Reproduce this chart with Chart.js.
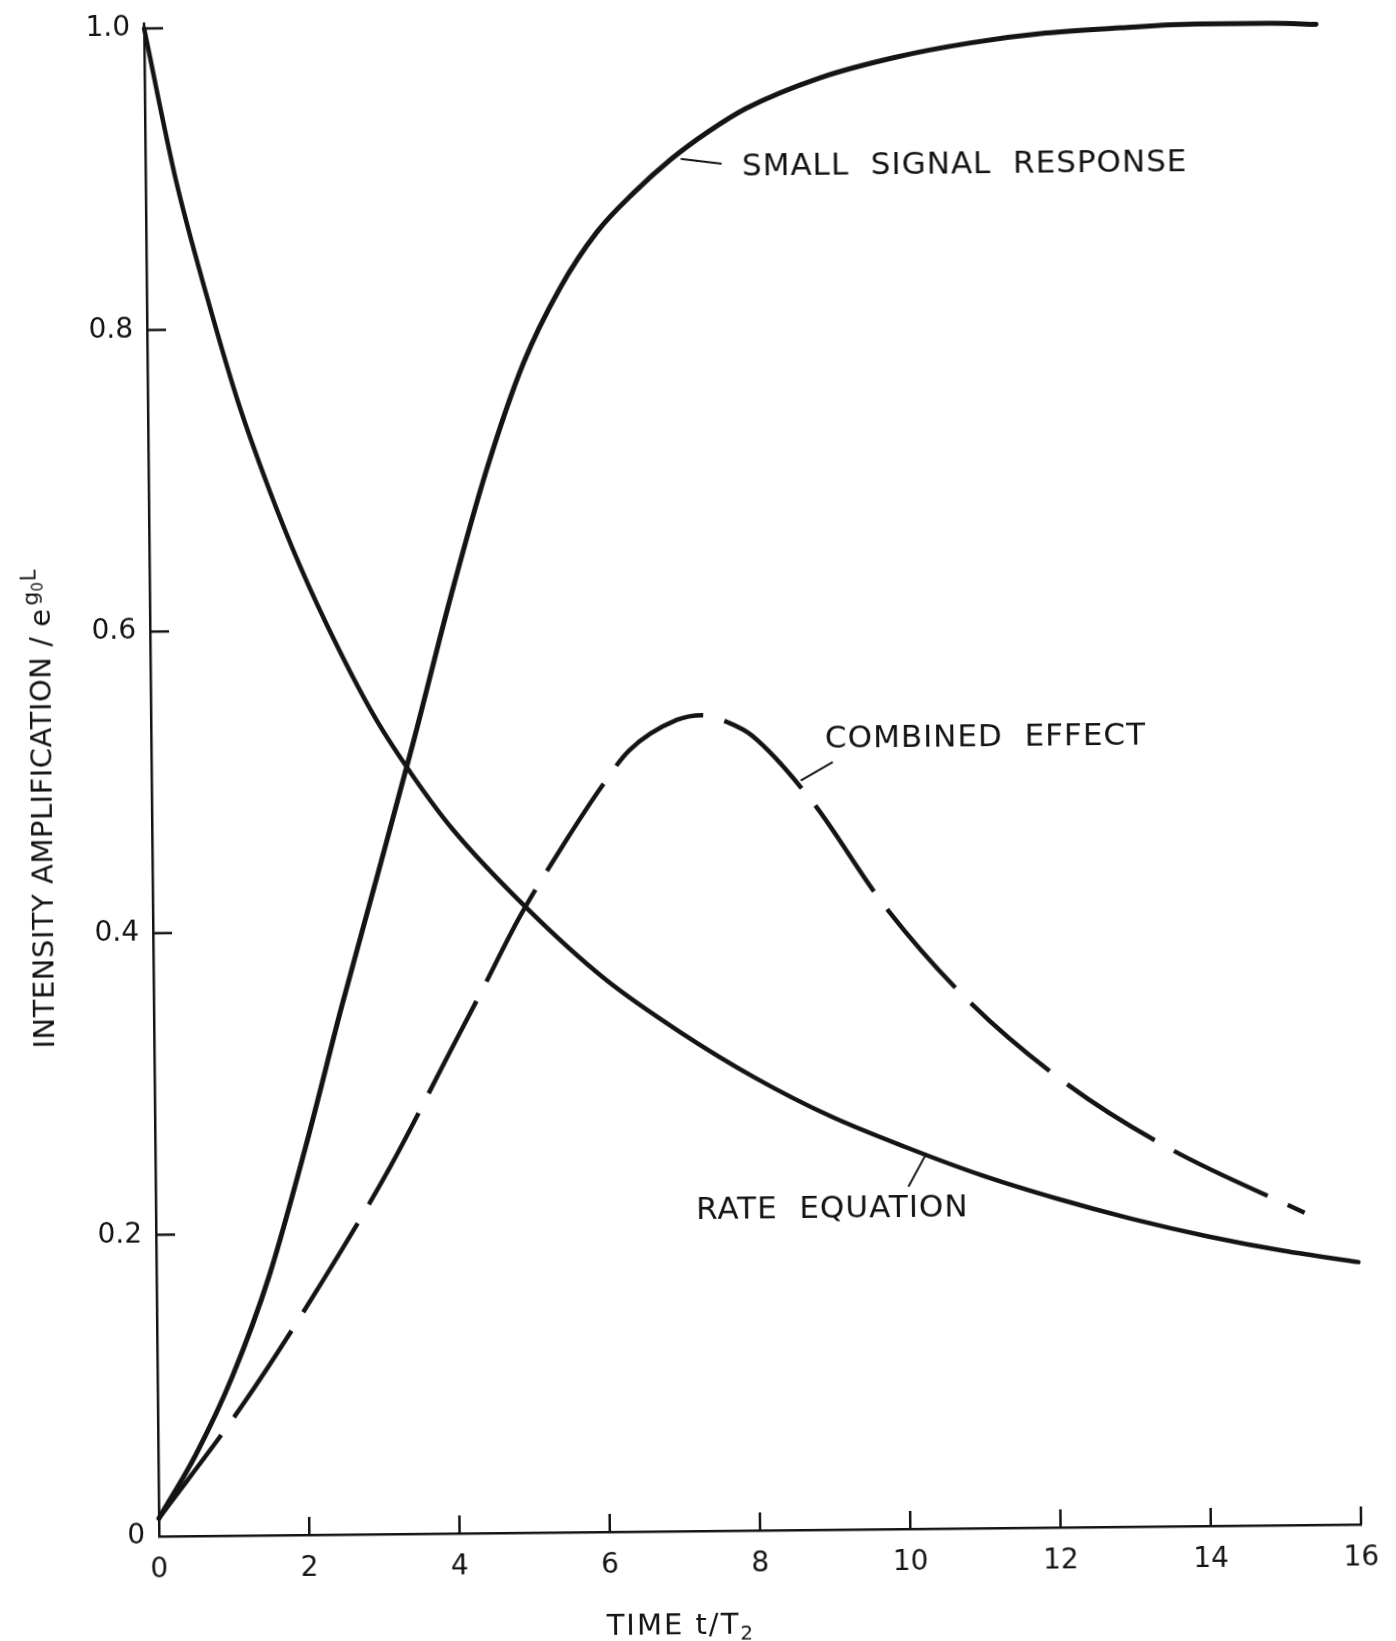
<!DOCTYPE html>
<html lang="en">
<head>
<meta charset="UTF-8">
<title>Intensity amplification vs time</title>
<script src="https://cdn.jsdelivr.net/npm/chart.js"></script>
<style>
  html, body { margin: 0; padding: 0; background: #fff; overflow: hidden; }
  /* the printed figure sits slightly skewed on the page */
  #chart { display: block; transform: rotate(-0.57deg); transform-origin: 50% 50%; }
</style>
</head>
<body>
<canvas id="chart" width="1396" height="1641"></canvas>
<script>
// values, time in units of T2
const smallSignalTime = [0, 0.5, 1.0, 1.5, 2.0, 2.5, 3.0, 3.5, 4.0, 4.5, 5.0, 5.5, 6.0, 6.5, 7.0, 7.5, 8.0, 9.0, 10, 11, 12, 13, 14, 15, 15.6];
const smallSignalAmp  = [0.012, 0.054, 0.106, 0.172, 0.257, 0.35, 0.438, 0.527, 0.62, 0.705, 0.775, 0.825, 0.862, 0.888, 0.91, 0.928, 0.943, 0.963, 0.976, 0.985, 0.991, 0.994, 0.996, 0.996, 0.995];

const rateEqTime = [0, 0.4, 0.8, 1.2, 1.6, 2.0, 2.5, 3.0, 3.5, 4.0, 5.0, 6.0, 7.0, 8.0, 9.0, 10, 11, 12, 13, 14, 15, 16];
const rateEqAmp  = [1.0, 0.9, 0.822, 0.752, 0.694, 0.643, 0.588, 0.54, 0.501, 0.467, 0.413, 0.367, 0.331, 0.3, 0.274, 0.253, 0.234, 0.218, 0.204, 0.192, 0.182, 0.174];

const combinedTime = [0, 1.12, 2.22, 3.13, 3.9, 4.35, 4.9, 5.5, 6.0, 6.36, 7.0, 7.34, 7.68, 8.0, 8.79, 9.73, 10.84, 12.17, 13.52, 15.29];
const combinedAmp  = [0.012, 0.086, 0.169, 0.244, 0.316, 0.358, 0.41, 0.458, 0.495, 0.518, 0.538, 0.541, 0.536, 0.527, 0.483, 0.414, 0.35, 0.293, 0.25, 0.207];

const timeTicks = [2, 4, 6, 8, 10, 12, 14, 16];
const ampTicks = [0.2, 0.4, 0.6, 0.8, 1.0];

const ink = '#141414';
const face = '"DejaVu Sans", "Liberation Sans", sans-serif';

function pts(xs, ys) {
    return xs.map((x, i) => ({ x: x, y: ys[i] }));
}

// curve labels with their leader lines, in data units
const notes = [
    { text: 'SMALL  SIGNAL  RESPONSE', at: [7.94, 0.904], from: [7.125, 0.91], to: [7.67, 0.9065] },
    { text: 'COMBINED  EFFECT', at: [8.97, 0.5236], from: [8.64, 0.497], to: [9.07, 0.509] },
    { text: 'RATE  EQUATION', at: [7.19, 0.212], from: [10.25, 0.2476], to: [10.02, 0.227] }
];

const figureBits = {
    id: 'figureBits',
    afterDraw(chart) {
        const ctx = chart.ctx;
        const x = chart.scales.x, y = chart.scales.y;
        const area = chart.chartArea;
        ctx.save();
        ctx.strokeStyle = ink;
        ctx.fillStyle = ink;
        ctx.lineCap = 'butt';

        // inward tick marks
        ctx.lineWidth = 2.5;
        timeTicks.forEach(t => {
            const px = x.getPixelForValue(t);
            ctx.beginPath();
            ctx.moveTo(px, area.bottom);
            ctx.lineTo(px, area.bottom - 18);
            ctx.stroke();
        });
        ampTicks.forEach(v => {
            const py = y.getPixelForValue(v);
            ctx.beginPath();
            ctx.moveTo(area.left, py);
            ctx.lineTo(area.left + 19, py);
            ctx.stroke();
        });
        // axis runs a little past 1.0
        ctx.beginPath();
        ctx.moveTo(area.left, area.top);
        ctx.lineTo(area.left, area.top - 6);
        ctx.stroke();

        // labels and leaders
        ctx.lineWidth = 2;
        ctx.font = '31px ' + face;
        ctx.letterSpacing = '1px';
        ctx.textAlign = 'left';
        ctx.textBaseline = 'middle';
        notes.forEach(n => {
            ctx.beginPath();
            ctx.moveTo(x.getPixelForValue(n.from[0]), y.getPixelForValue(n.from[1]));
            ctx.lineTo(x.getPixelForValue(n.to[0]), y.getPixelForValue(n.to[1]));
            ctx.stroke();
            ctx.fillText(n.text, x.getPixelForValue(n.at[0]), y.getPixelForValue(n.at[1]));
        });

        // x axis title
        ctx.font = '29px ' + face;
        ctx.letterSpacing = '2px';
        ctx.textBaseline = 'alphabetic';
        const xt = 'TIME t/T';
        const xw = ctx.measureText(xt).width;
        const sw = 13;
        const tx = area.left + 520 - (xw + sw) / 2;
        ctx.fillText(xt, tx, area.bottom + 103);
        ctx.font = '20px ' + face;
        ctx.letterSpacing = '0px';
        ctx.fillText('2', tx + xw, area.bottom + 109);

        // y axis title with the e^(g0 L) term
        ctx.translate(area.left - 100, area.bottom - 489);
        ctx.rotate(-Math.PI / 2);
        ctx.font = '29px ' + face;
        ctx.letterSpacing = '0.5px';
        const main = 'INTENSITY AMPLIFICATION / e';
        ctx.fillText(main, 0, 0);
        let w = ctx.measureText(main).width + 3;
        ctx.letterSpacing = '0px';
        ctx.font = '22px ' + face;
        ctx.fillText('g', w, -12);
        w += ctx.measureText('g').width;
        ctx.font = '15px ' + face;
        ctx.fillText('0', w, -7);
        w += ctx.measureText('0').width + 1;
        ctx.font = '21px ' + face;
        ctx.fillText('L', w, -14);
        ctx.restore();
    }
};

new Chart(document.getElementById('chart'), {
    type: 'line',
    data: {
        datasets: [
            {
                label: 'Small signal response',
                data: pts(smallSignalTime, smallSignalAmp),
                borderColor: ink,
                borderWidth: 5,
                borderCapStyle: 'round',
                borderJoinStyle: 'round',
                cubicInterpolationMode: 'monotone',
                pointRadius: 0,
                clip: false
            },
            {
                label: 'Rate equation',
                data: pts(rateEqTime, rateEqAmp),
                borderColor: ink,
                borderWidth: 4.5,
                borderCapStyle: 'round',
                borderJoinStyle: 'round',
                cubicInterpolationMode: 'monotone',
                pointRadius: 0,
                clip: false
            },
            {
                label: 'Combined effect',
                data: pts(combinedTime, combinedAmp),
                borderColor: ink,
                borderWidth: 4.5,
                borderDash: [104, 22],
                borderJoinStyle: 'round',
                cubicInterpolationMode: 'monotone',
                pointRadius: 0,
                clip: false
            }
        ]
    },
    options: {
        responsive: false,
        animation: false,
        events: [],
        layout: { padding: { left: 0, right: 42, top: 23, bottom: 0 } },
        plugins: {
            legend: { display: false },
            tooltip: { enabled: false }
        },
        scales: {
            x: {
                type: 'linear',
                min: 0,
                max: 16,
                afterFit: s => {
                    s.height = 110;
                    s.paddingLeft = 0;
                    s.paddingRight = 0;
                },
                grid: { display: false, drawTicks: false },
                border: { display: true, color: ink, width: 2.5 },
                ticks: {
                    stepSize: 2,
                    padding: 20,
                    color: ink,
                    font: { family: face, size: 28, lineHeight: 1 }
                }
            },
            y: {
                type: 'linear',
                min: 0,
                max: 1,
                afterFit: s => {
                    s.width = 152;
                    s.paddingTop = 0;
                    s.paddingBottom = 0;
                },
                grid: { display: false, drawTicks: false },
                border: { display: true, color: ink, width: 2.5 },
                ticks: {
                    stepSize: 0.2,
                    padding: 14,
                    color: ink,
                    font: { family: face, size: 28, lineHeight: 1 },
                    callback: v => v === 0 ? '0' : v.toFixed(1)
                }
            }
        }
    },
    plugins: [figureBits]
});
</script>
</body>
</html>
